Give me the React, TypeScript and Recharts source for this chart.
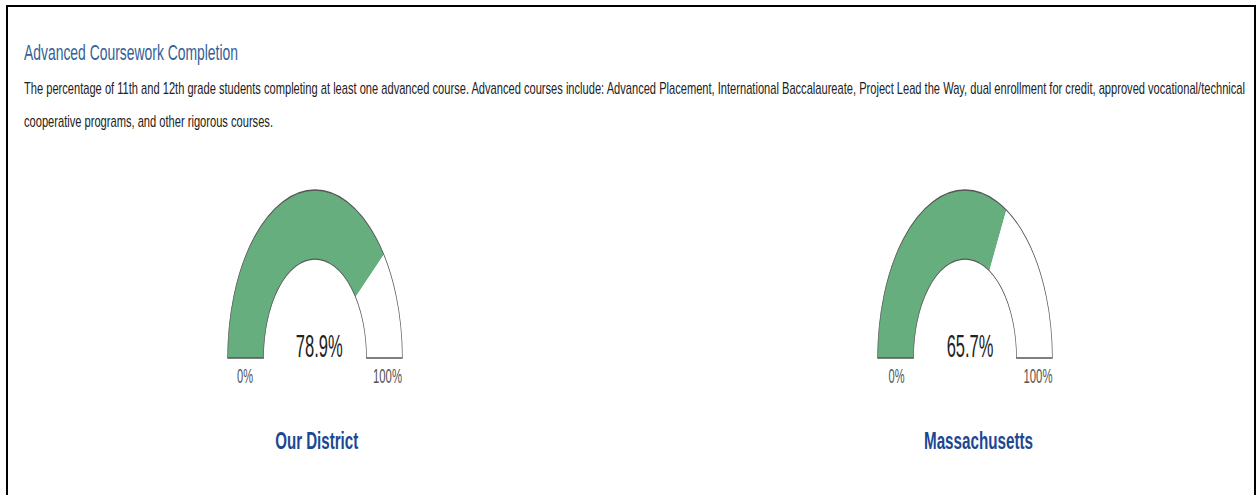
import { PieChart, Pie, Cell } from 'recharts';

const gaugeNames = ['Our District', 'Massachusetts'];
const completionRates = [78.9, 65.7];
const scaleLabels = ['0%', '100%'];
const titleText = 'Advanced Coursework Completion';
const descriptionLines = [
  'The percentage of 11th and 12th grade students completing at least one advanced course. Advanced courses include: Advanced Placement, International Baccalaureate, Project Lead the Way, dual enrollment for credit, approved vocational/technical',
  'cooperative programs, and other rigorous courses.',
];

// the screenshot squeezes everything sideways
const SQUEEZE = 0.52;
const TEXT_SQUEEZE = 0.7;
const GAUGE_W = 400;
const GAUGE_H = 200;
const CX = 200;
const CY = 180;

const gaugeCenters = [314.5, 965];
const labelSpots = [
  { value: 319.3, valueW: 47, zero: 245, hundred: 387.5, name: 316.7, nameW: 83 },
  { value: 970, valueW: 46.7, zero: 896.5, hundred: 1038, name: 978.5, nameW: 109 },
];

const Gauge = ({ rate, centerX }: { rate: number; centerX: number }) => {
  const data = [
    { name: 'Completed', value: rate },
    { name: 'Not completed', value: 100 - rate },
  ];
  return (
    <div
      style={{
        position: 'absolute',
        left: centerX - CX,
        top: 358 - CY,
        width: GAUGE_W,
        height: GAUGE_H,
        transform: `scaleX(${SQUEEZE})`,
        transformOrigin: `${CX}px 0`,
      }}
    >
      <PieChart width={GAUGE_W} height={GAUGE_H} margin={{ top: 0, right: 0, bottom: 0, left: 0 }}>
        <Pie
          data={data}
          dataKey="value"
          cx={CX}
          cy={CY}
          startAngle={180}
          endAngle={0}
          innerRadius={99}
          outerRadius={168}
          stroke="none"
          isAnimationActive={false}
        >
          <Cell fill="#67ae7e" />
          <Cell fill="#ffffff" />
        </Pie>
        <Pie
          data={[{ name: 'outline', value: 100 }]}
          dataKey="value"
          cx={CX}
          cy={CY}
          startAngle={180}
          endAngle={0}
          innerRadius={99}
          outerRadius={168}
          fill="none"
          stroke="#555"
          strokeWidth={1.3}
          isAnimationActive={false}
        />
      </PieChart>
    </div>
  );
};

export default function App() {
  return (
    <div
      style={{
        position: 'absolute',
        left: 0,
        top: 0,
        width: 1257,
        height: 495,
        overflow: 'hidden',
        background: '#fff',
      }}
    >
      <div
        style={{
          position: 'absolute',
          left: 6,
          top: 5,
          width: 1246,
          height: 520,
          borderTop: '2px solid #000',
          borderLeft: '2px solid #000',
          borderRight: '2px solid #000',
        }}
      />
      {completionRates.map((r, i) => (
        <Gauge key={gaugeNames[i]} rate={r} centerX={gaugeCenters[i]} />
      ))}
      <svg
        width={1257}
        height={495}
        style={{ position: 'absolute', left: 0, top: 0, fontFamily: '"Liberation Sans", Arial, sans-serif' }}
      >
        <text x={24} y={60} fontSize={22} fill="#355f97" textLength={214} lengthAdjust="spacingAndGlyphs">
          {titleText}
        </text>
        <g transform={`translate(24 94.3) scale(${TEXT_SQUEEZE} 1)`}>
          <text x={0} y={0} fontSize={16} fill="#222" textLength={1221 / TEXT_SQUEEZE} lengthAdjust="spacingAndGlyphs">
            {descriptionLines[0]}
          </text>
        </g>
        <g transform={`translate(24 126.7) scale(${TEXT_SQUEEZE} 1)`}>
          <text x={0} y={0} fontSize={16} fill="#222" textLength={249 / TEXT_SQUEEZE} lengthAdjust="spacingAndGlyphs">
            {descriptionLines[1]}
          </text>
        </g>
        {completionRates.map((r, i) => {
          const s = labelSpots[i];
          return (
            <g key={gaugeNames[i]}>
              <text x={s.value} y={357} fontSize={32} fill="#222" textAnchor="middle" textLength={s.valueW} lengthAdjust="spacingAndGlyphs">
                {`${r.toFixed(1)}%`}
              </text>
              <text x={s.zero} y={383} fontSize={21} fill="#555" textAnchor="middle" textLength={16} lengthAdjust="spacingAndGlyphs">
                {scaleLabels[0]}
              </text>
              <text x={s.hundred} y={383} fontSize={21} fill="#555" textAnchor="middle" textLength={29} lengthAdjust="spacingAndGlyphs">
                {scaleLabels[1]}
              </text>
              <text x={s.name} y={449} fontSize={23} fontWeight="bold" fill="#1c4793" textAnchor="middle" textLength={s.nameW} lengthAdjust="spacingAndGlyphs">
                {gaugeNames[i]}
              </text>
            </g>
          );
        })}
      </svg>
    </div>
  );
}
